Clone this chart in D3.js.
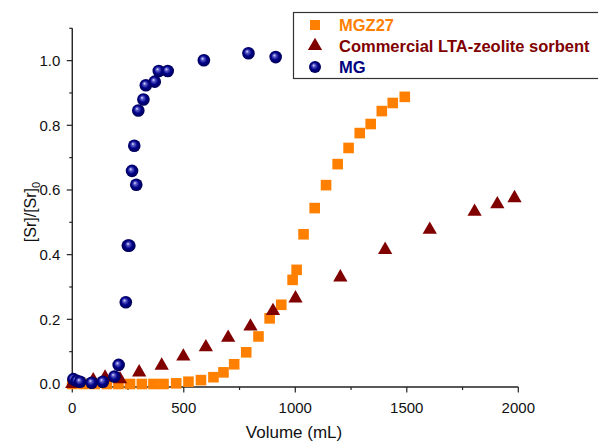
<!DOCTYPE html>
<html>
<head>
<meta charset="utf-8">
<script src="https://cdn.jsdelivr.net/npm/d3@7"></script>
<style>
  body { margin: 0; background: #fff; }
  svg { font-family: "Liberation Sans", Arial, sans-serif; }
</style>
</head>
<body>
<div id="chart"></div>
<script>
// MG (microspheres)
const mgX = [5, 20, 35, 87, 137, 189, 208, 240, 249, 256, 268, 278, 287, 296, 319, 330, 370, 388, 428, 590, 790, 912];
const mgY = [0.015, 0.010, 0.007, 0.004, 0.007, 0.023, 0.059, 0.253, 0.428, 0.428, 0.659, 0.737, 0.616, 0.846, 0.880, 0.924, 0.935, 0.968, 0.968, 1.001, 1.023, 1.011];

// MGZ27
const mgzX = [0, 50, 100, 155, 207, 259, 312, 364, 409, 466, 521, 577, 633, 678, 726, 780, 835, 885, 937, 988, 1006, 1037, 1087, 1138, 1190, 1239, 1289, 1338, 1388, 1437, 1491];
const mgzY = [0, 0, 0, 0, 0, 0, 0, 0, 0, 0.002, 0.007, 0.012, 0.021, 0.036, 0.061, 0.098, 0.147, 0.203, 0.245, 0.322, 0.353, 0.463, 0.544, 0.615, 0.680, 0.730, 0.776, 0.804, 0.844, 0.869, 0.888];

// Commercial LTA-zeolite sorbent
const ltaX = [0, 94, 147, 214, 300, 401, 498, 599, 699, 799, 900, 1001, 1202, 1403, 1603, 1804, 1906, 1983];
const ltaY = [0, 0.012, 0.02, 0.015, 0.036, 0.057, 0.085, 0.114, 0.143, 0.178, 0.226, 0.265, 0.330, 0.415, 0.477, 0.533, 0.556, 0.575];

const xTicks = [0, 500, 1000, 1500, 2000];
const yTicks = [0.0, 0.2, 0.4, 0.6, 0.8, 1.0];

const W = 598, H = 443;
const svg = d3.select("#chart").append("svg")
    .attr("width", W)
    .attr("height", H);

const defs = svg.append("defs");
const grad = defs.append("radialGradient")
    .attr("id", "ball")
    .attr("cx", "50%").attr("cy", "50%").attr("r", "55%")
    .attr("fx", "38%").attr("fy", "35%");
grad.append("stop").attr("offset", "0%").attr("stop-color", "#e6e6ff");
grad.append("stop").attr("offset", "22%").attr("stop-color", "#5a5ac8");
grad.append("stop").attr("offset", "55%").attr("stop-color", "#000088");
grad.append("stop").attr("offset", "100%").attr("stop-color", "#00004c");

const x = d3.scaleLinear().domain([-25, 2000]).range([66.7, 518.3]);
const y = d3.scaleLinear().domain([-0.0093, 1.1]).range([387, 28.3]);

const axisColor = "#222";

// x axis
const gx = svg.append("g").attr("transform", "translate(0,387)");
gx.append("line").attr("x1", x.range()[0]).attr("x2", x.range()[1])
    .attr("stroke", axisColor).attr("stroke-width", 1.4);
gx.selectAll(".minor").data(d3.range(250, 2000, 500)).enter().append("line")
    .attr("x1", d => x(d)).attr("x2", d => x(d)).attr("y1", 0).attr("y2", 3)
    .attr("stroke", axisColor).attr("stroke-width", 1.2);
gx.selectAll(".major").data(xTicks).enter().append("line")
    .attr("x1", d => x(d)).attr("x2", d => x(d)).attr("y1", 0).attr("y2", 5.5)
    .attr("stroke", axisColor).attr("stroke-width", 1.2);
gx.selectAll("text").data(xTicks).enter().append("text")
    .attr("x", d => x(d)).attr("y", 26)
    .attr("text-anchor", "middle")
    .style("font-size", "15px").attr("fill", "#111")
    .text(d => d);

// y axis
const gy = svg.append("g").attr("transform", `translate(${x(0)},0)`);
gy.append("line").attr("y1", y.range()[0]).attr("y2", y.range()[1])
    .attr("stroke", axisColor).attr("stroke-width", 1.4);
gy.selectAll(".minor").data(d3.range(0.1, 1.15, 0.2)).enter().append("line")
    .attr("y1", d => y(d)).attr("y2", d => y(d)).attr("x1", 0).attr("x2", -3)
    .attr("stroke", axisColor).attr("stroke-width", 1.2);
gy.selectAll(".major").data(yTicks).enter().append("line")
    .attr("y1", d => y(d)).attr("y2", d => y(d)).attr("x1", 0).attr("x2", -5.5)
    .attr("stroke", axisColor).attr("stroke-width", 1.2);
gy.selectAll("text").data(yTicks).enter().append("text")
    .attr("x", -12).attr("y", d => y(d)).attr("dy", "0.36em")
    .attr("text-anchor", "end")
    .style("font-size", "15px").attr("fill", "#111")
    .text(d => d.toFixed(1));

// axis titles
svg.append("text")
    .attr("x", 294).attr("y", 438)
    .attr("text-anchor", "middle")
    .style("font-size", "17px").attr("fill", "#111")
    .text("Volume (mL)");

const yt = svg.append("text")
    .attr("transform", "translate(36,212) rotate(-90)")
    .attr("text-anchor", "middle")
    .style("font-size", "16px").attr("fill", "#111");
yt.append("tspan").text("[Sr]/[Sr]");
yt.append("tspan").attr("dy", 4).style("font-size", "11px").text("0");

// MGZ27 squares
const sq = 10.6;
svg.append("g").selectAll("rect").data(mgzX).enter().append("rect")
    .attr("x", (d, i) => x(d) - sq / 2)
    .attr("y", (d, i) => y(mgzY[i]) - sq / 2)
    .attr("width", sq).attr("height", sq)
    .attr("fill", "#ff8000");

// LTA triangles
const tri = d3.symbol().type(d3.symbolTriangle).size(88);
svg.append("g").selectAll("path").data(ltaX).enter().append("path")
    .attr("d", tri)
    .attr("transform", (d, i) => `translate(${x(d)},${y(ltaY[i])})`)
    .attr("fill", "#800000");

// MG spheres
svg.append("g").selectAll("circle").data(mgX).enter().append("circle")
    .attr("cx", d => x(d))
    .attr("cy", (d, i) => y(mgY[i]))
    .attr("r", 6.3)
    .attr("fill", "url(#ball)");

// legend
const lg = svg.append("g");
lg.append("rect")
    .attr("x", 293.5).attr("y", 12.5)
    .attr("width", 330).attr("height", 66)
    .attr("fill", "#fff").attr("stroke", "#333").attr("stroke-width", 1.2);

const legendItems = [
    {name: "MGZ27", color: "#ff8000", y: 25},
    {name: "Commercial LTA-zeolite sorbent", color: "#800000", y: 46},
    {name: "MG", color: "#000080", y: 67}
];
lg.append("rect").attr("x", 315 - 5).attr("y", legendItems[0].y - 5)
    .attr("width", 10).attr("height", 10).attr("fill", "#ff8000");
lg.append("path").attr("d", tri)
    .attr("transform", `translate(315,${legendItems[1].y})`)
    .attr("fill", "#800000");
lg.append("circle").attr("cx", 315).attr("cy", legendItems[2].y)
    .attr("r", 6).attr("fill", "url(#ball)");
lg.selectAll("text").data(legendItems).enter().append("text")
    .attr("x", 339).attr("y", d => d.y + 6)
    .style("font-size", "16.5px").style("font-weight", "bold")
    .attr("fill", d => d.color)
    .text(d => d.name);
</script>
</body>
</html>
